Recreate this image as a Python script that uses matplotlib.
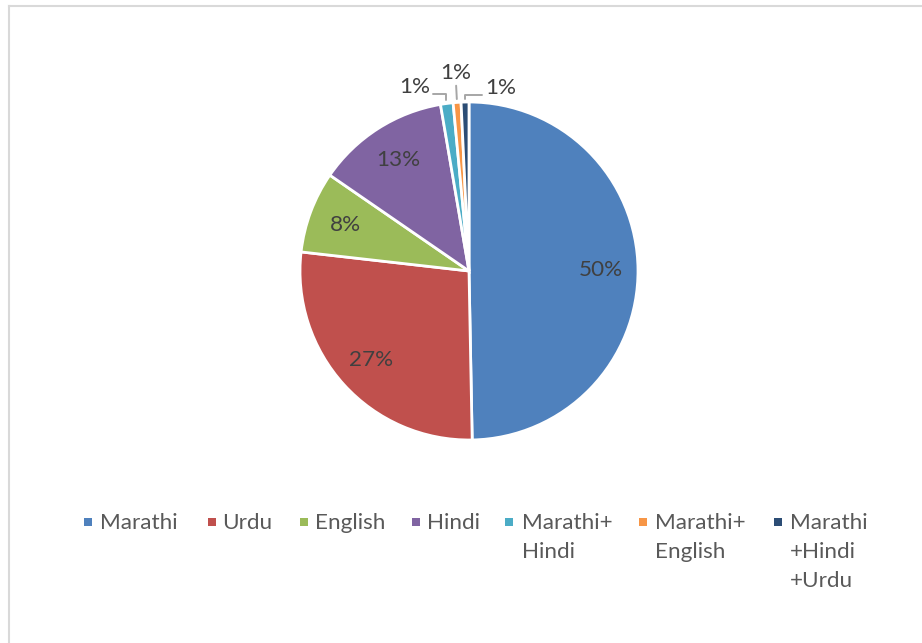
import matplotlib
matplotlib.use('Agg')
import numpy as np
import matplotlib.pyplot as plt
from matplotlib.patches import Rectangle
from matplotlib.lines import Line2D

# ---- data ----
categories = ['Marathi', 'Urdu', 'English', 'Hindi',
              'Marathi+\nHindi', 'Marathi+\nEnglish', 'Marathi\n+Hindi\n+Urdu']
values = [49.7, 27.1, 7.8, 12.7, 1.2, 0.75, 0.75]
pct_labels = ['50%', '27%', '8%', '13%', '1%', '1%', '1%']
colors = ['#4F81BD', '#C0504D', '#9BBB59', '#8064A2', '#4BACC6', '#F79646', '#2C4D75']

# ---- layout ----
plt.rcParams['font.family'] = ['Lato', 'DejaVu Sans']
W, H = 922, 643
fig = plt.figure(figsize=(W / 100, H / 100), dpi=100)
fig.patch.set_facecolor('white')

cx, cy, R = 469, 271, 169          # pie centre / radius in pixels
lim = 1.25
half = R * lim
ax = fig.add_axes([(cx - half) / W, (H - cy - half) / H, 2 * half / W, 2 * half / H])
wedges, _ = ax.pie(values, colors=colors, startangle=90, counterclock=False,
                   wedgeprops=dict(edgecolor='white', linewidth=2.0))
ax.set_xlim(-lim, lim)
ax.set_ylim(-lim, lim)
ax.axis('off')

label_color = '#404040'
fs = 16.2

# inside labels
for w, lab in zip(wedges[:4], pct_labels[:4]):
    th = np.deg2rad((w.theta1 + w.theta2) / 2)
    ax.text(0.78 * np.cos(th), 0.78 * np.sin(th), lab, ha='center', va='center',
            fontsize=fs, color=label_color)

# outside labels for the small slices
small_label_xy = [(-0.32, 1.089), (-0.077, 1.172), (0.185, 1.083)]
conn = ['angle,angleA=0,angleB=90,rad=0', 'arc3', 'angle,angleA=0,angleB=90,rad=0']
relpos = [(1.0, 0.15), (0.5, 0.0), (0.0, 0.15)]
for w, lab, xyt, cs, rp in zip(wedges[4:], pct_labels[4:], small_label_xy, conn, relpos):
    th = np.deg2rad((w.theta1 + w.theta2) / 2)
    ax.annotate(lab, xy=(1.02 * np.cos(th), 1.02 * np.sin(th)), xytext=xyt,
                ha='center', va='center', fontsize=fs, color=label_color,
                arrowprops=dict(arrowstyle='-', color='#a6a6a6', lw=1.4,
                                connectionstyle=cs, relpos=rp, shrinkA=0, shrinkB=0),
                annotation_clip=False)

# chart frame (only top and left visible)
fig.add_artist(Line2D([8.5 / W, 1.0], [1 - 5.5 / H, 1 - 5.5 / H], transform=fig.transFigure,
                      color='#d9d9d9', lw=1.5))
fig.add_artist(Line2D([8.5 / W, 8.5 / W], [0.0, 1 - 5.5 / H], transform=fig.transFigure,
                      color='#d9d9d9', lw=1.5))

# legend (manual, to mimic Excel's multi-line entries)
marker_x = [88, 212, 304, 416, 509, 643, 778]
text_x = [100, 222, 315, 427, 522, 655, 790]
marker_y = 522
baseline_y = 529
line_step = 29
msz = 8
for mx, tx, cat, col in zip(marker_x, text_x, categories, colors):
    fig.add_artist(Rectangle(((mx - msz / 2) / W, 1 - (marker_y + msz / 2) / H), msz / W, msz / H,
                             transform=fig.transFigure, facecolor=col, edgecolor='none'))
    for k, line in enumerate(cat.split('\n')):
        fig.text(tx / W, 1 - (baseline_y + k * line_step) / H, line, ha='left', va='baseline',
                 fontsize=fs, color='#595959')

fig.savefig('out.png', dpi=100, facecolor='white')
